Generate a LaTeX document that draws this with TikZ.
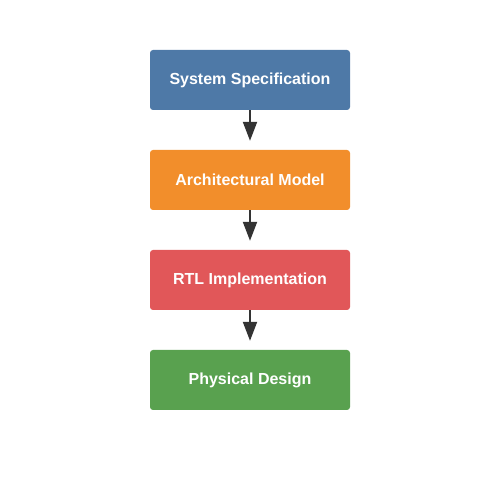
\documentclass[tikz,border=0pt]{standalone}
\usepackage{fontspec}
\setmainfont{Liberation Sans}
\usetikzlibrary{arrows.meta}
\definecolor{cblue}{HTML}{4E79A7}
\definecolor{corange}{HTML}{F28E2B}
\definecolor{cred}{HTML}{E15759}
\definecolor{cgreen}{HTML}{59A14F}
\definecolor{carrow}{HTML}{333333}
\begin{document}
\begin{tikzpicture}[x=1pt,y=1pt,
  stagebox/.style={rectangle, rounded corners=3pt, minimum width=200pt, minimum height=60pt, inner sep=0pt, text=white, font=\bfseries\fontsize{16}{19}\selectfont},
  flowarrow/.style={draw=carrow, line width=2pt, -{Triangle[length=19pt,width=14pt]}}]
\useasboundingbox (0,0) rectangle (500,500);
\node[stagebox, fill=cblue] (spec) at (250,420) {System Specification};
\node[stagebox, fill=corange] (arch) at (250,320) {Architectural Model};
\node[stagebox, fill=cred] (rtl) at (250,220) {RTL Implementation};
\node[stagebox, fill=cgreen] (phys) at (250,120) {Physical Design};
\draw[flowarrow] (spec.south) -- ([yshift=9pt]arch.north);
\draw[flowarrow] (arch.south) -- ([yshift=9pt]rtl.north);
\draw[flowarrow] (rtl.south) -- ([yshift=9pt]phys.north);
\end{tikzpicture}
\end{document}
